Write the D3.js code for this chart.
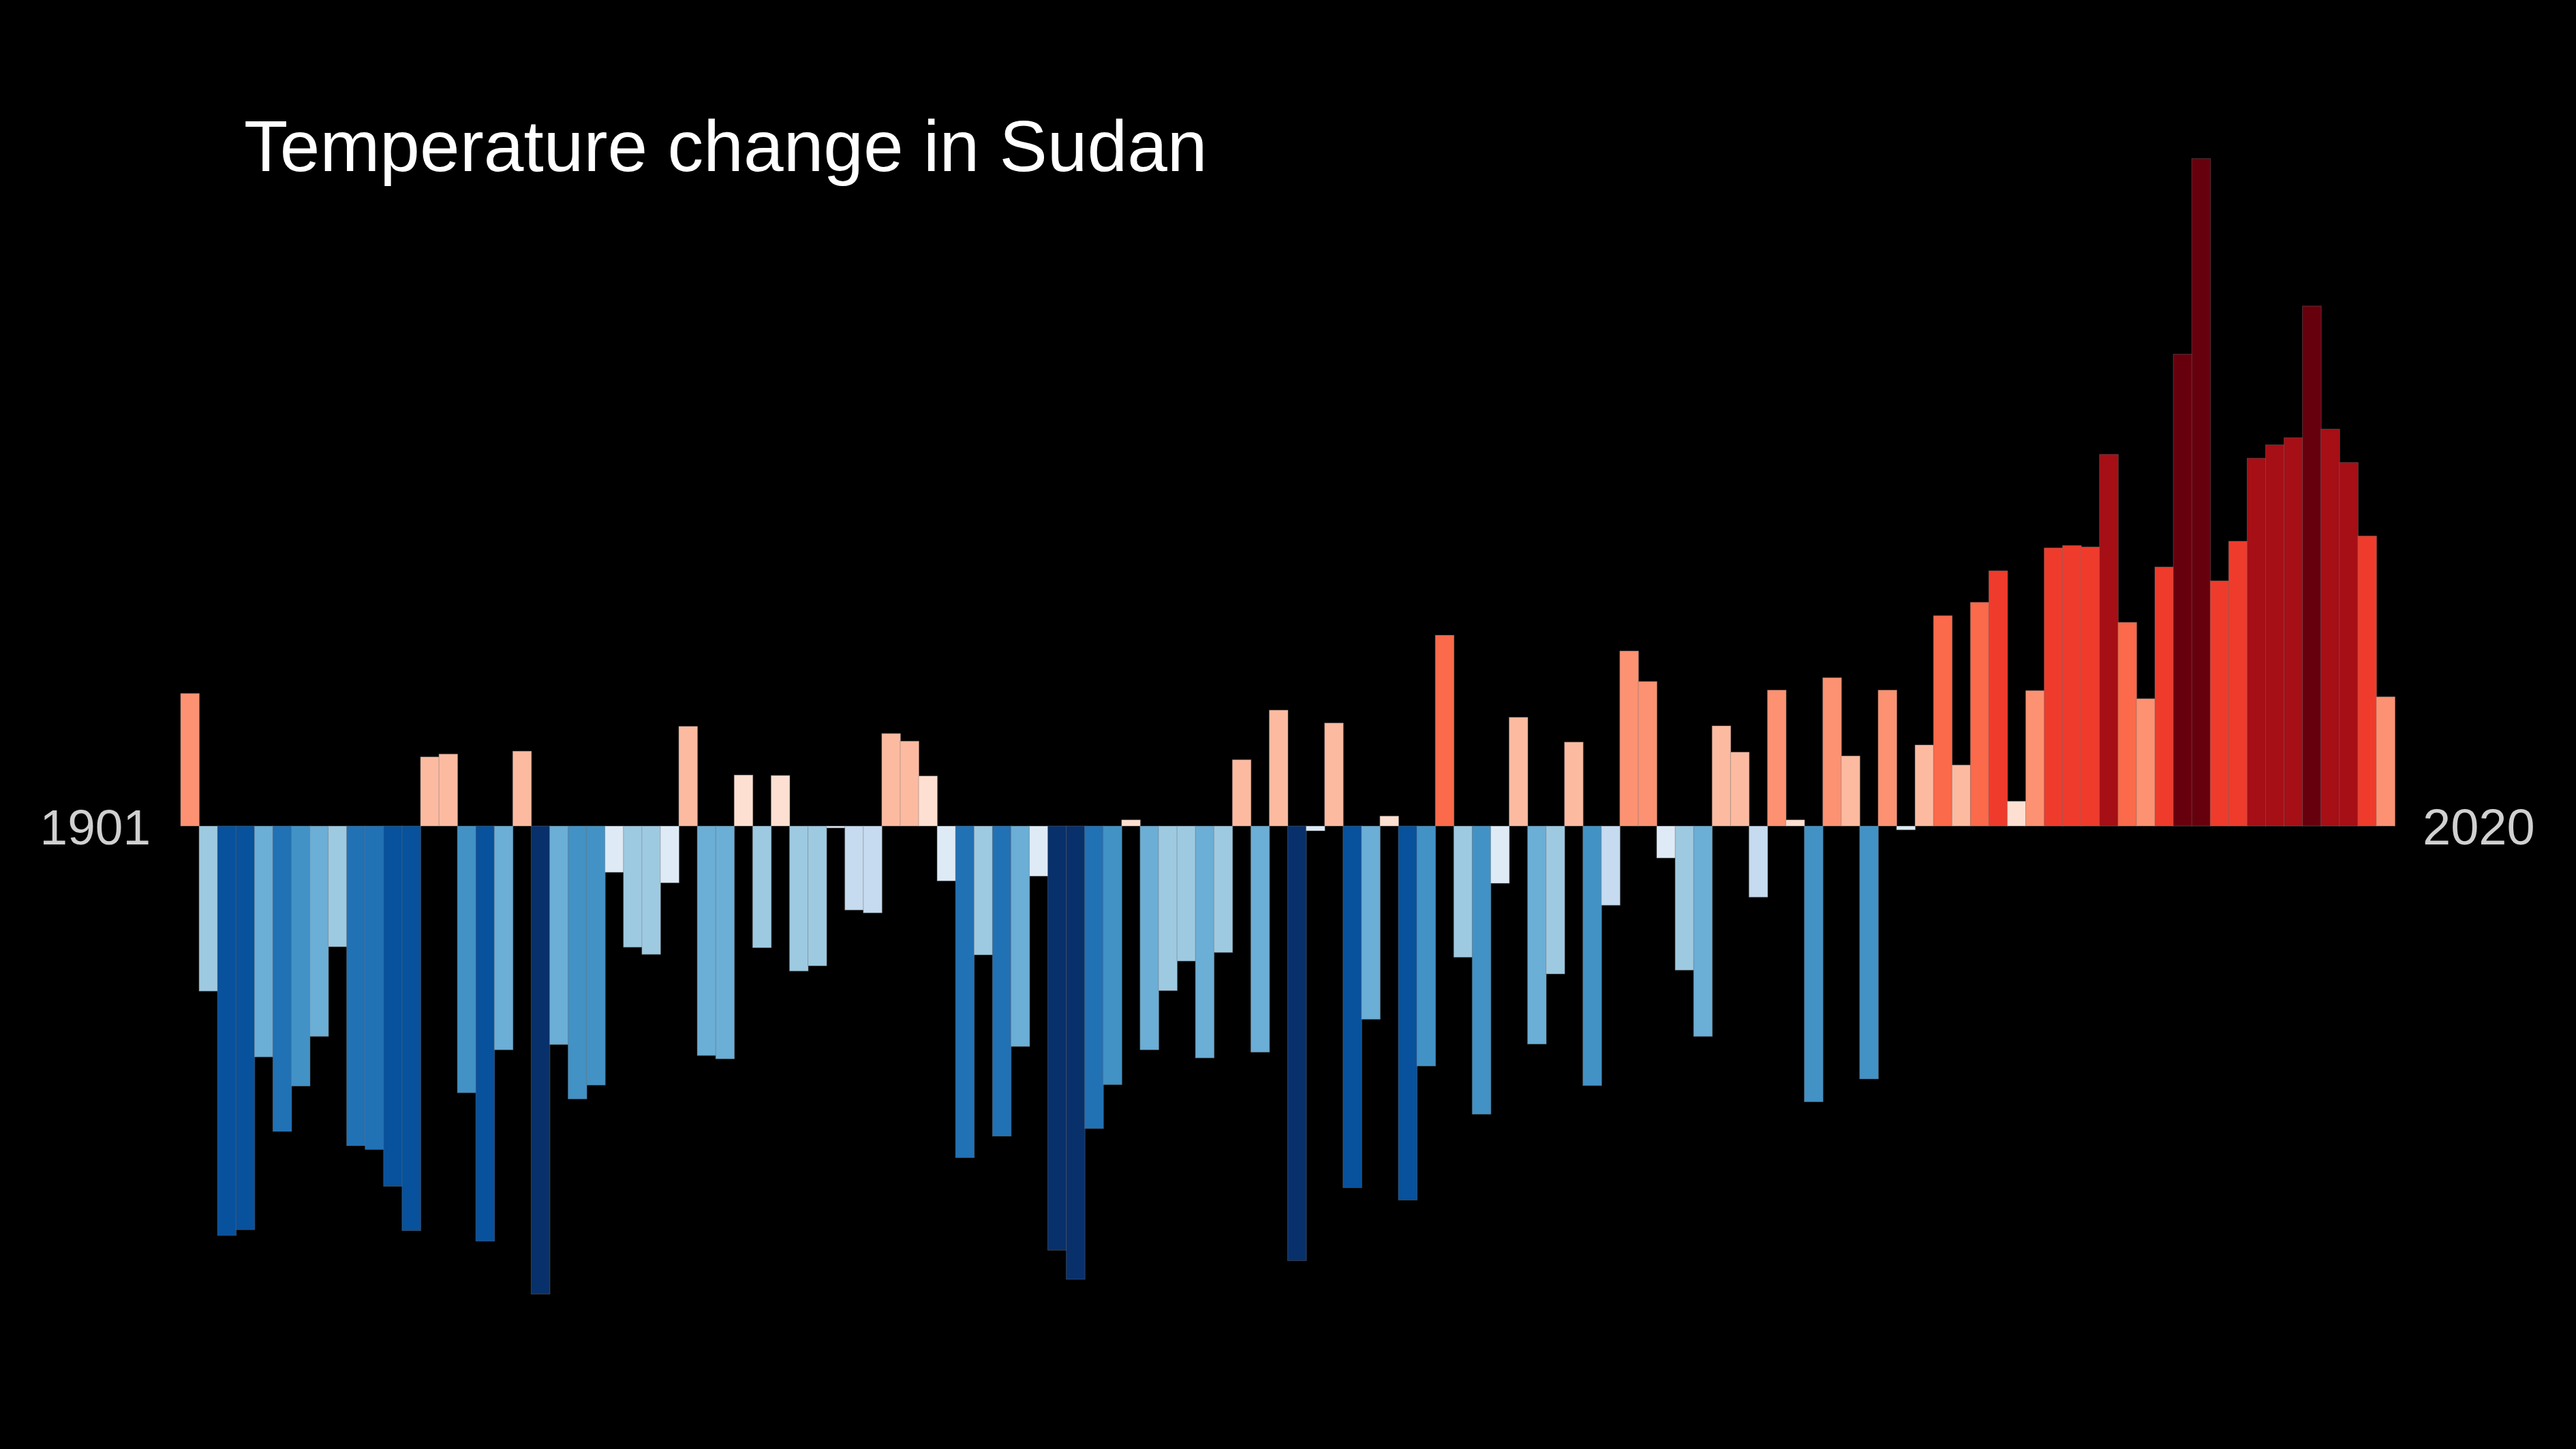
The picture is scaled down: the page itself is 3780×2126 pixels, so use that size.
<!DOCTYPE html>
<html>
<head>
<meta charset="utf-8">
<script src="https://cdn.jsdelivr.net/npm/d3@7"></script>
<style>
  html, body { margin: 0; padding: 0; background: #000; }
  svg { display: block; }
</style>
</head>
<body>
<svg id="chart"></svg>
<script>
// annual temperature anomaly, 1901-2020 (deg C)
var firstYear = 1901;
var lastYear = 2020;
var anomalies = [
   0.278, -0.346, -0.858, -0.846, -0.484, -0.640, -0.545, -0.441, -0.253, -0.670,
  -0.678, -0.755, -0.848,  0.145,  0.151, -0.559, -0.870, -0.469,  0.157, -0.981,
  -0.458, -0.572, -0.543, -0.097, -0.254, -0.269, -0.119,  0.209, -0.481, -0.488,
   0.107, -0.255,  0.106, -0.304, -0.293, -0.004, -0.176, -0.182,  0.194,  0.178,
   0.105, -0.115, -0.695, -0.270, -0.650, -0.462, -0.105, -0.889, -0.950, -0.634,
  -0.542,  0.013, -0.469, -0.345, -0.283, -0.486, -0.265,  0.139, -0.474,  0.243,
  -0.911, -0.010,  0.216, -0.758, -0.405,  0.021, -0.784, -0.503,  0.400, -0.275,
  -0.604, -0.120,  0.228, -0.457, -0.310,  0.176, -0.544, -0.166,  0.367,  0.303,
  -0.067, -0.302, -0.441,  0.210,  0.155, -0.149,  0.285,  0.013, -0.578,  0.311,
   0.147, -0.530,  0.285, -0.008,  0.170,  0.441,  0.128,  0.469,  0.535,  0.052,
   0.284,  0.583,  0.588,  0.585,  0.779,  0.427,  0.267,  0.543,  0.989,  1.399,
   0.514,  0.597,  0.771,  0.799,  0.814,  1.090,  0.832,  0.762,  0.608,  0.271
];
var stripeColors = [
  '#08306b', '#08519c', '#2171b5', '#4292c6', '#6baed6', '#9ecae1', '#c6dbef', '#deebf7',
  '#fee0d2', '#fcbba1', '#fc9272', '#fb6a4a', '#ef3b2c', '#cb181d', '#a50f15', '#67000d'
];
var colorLimit = 1.0;   // anomaly at the ends of the colour scale
var titleText = 'Temperature change in Sudan';

var W = 3780, H = 2126;
var years = d3.range(firstYear, lastYear + 1);
var data = years.map(function(y, i) { return { year: y, value: anomalies[i] }; });

var svg = d3.select('#chart').attr('width', W).attr('height', H);
svg.append('rect').attr('width', W).attr('height', H).attr('fill', '#000');

var x = d3.scaleBand()
    .domain(years)
    .range([265, 3514])
    .padding(0);

var y = d3.scaleLinear()
    .domain([-1, 1])
    .range([1912, 512]);

var color = d3.scaleQuantize()
    .domain([-colorLimit, colorLimit])
    .range(stripeColors);

svg.append('g')
    .selectAll('rect')
    .data(data)
    .join('rect')
    .attr('x', function(d) { return x(d.year); })
    .attr('width', x.bandwidth() + 0.5)
    .attr('y', function(d) { return Math.min(y(d.value), y(0)); })
    .attr('height', function(d) { return Math.abs(y(d.value) - y(0)); })
    .attr('fill', function(d) { return color(d.value); })
    .attr('stroke', 'rgba(110,110,110,0.45)')
    .attr('stroke-width', 1);

var font = '"Liberation Sans", Arial, Helvetica, sans-serif';

svg.append('text')
    .attr('x', 358)
    .attr('y', 251)
    .attr('fill', '#ffffff')
    .style('font-family', font)
    .style('font-size', '105.5px')
    .text(titleText);

var labelY = y(0) + 27;
svg.append('text')
    .attr('x', x.range()[0] - 44)
    .attr('y', labelY)
    .attr('text-anchor', 'end')
    .attr('fill', '#d0d0d0')
    .style('font-family', font)
    .style('font-size', '73px')
    .text(firstYear);

svg.append('text')
    .attr('x', x.range()[1] + 41)
    .attr('y', labelY)
    .attr('text-anchor', 'start')
    .attr('fill', '#d0d0d0')
    .style('font-family', font)
    .style('font-size', '74px')
    .text(lastYear);
</script>
</body>
</html>
